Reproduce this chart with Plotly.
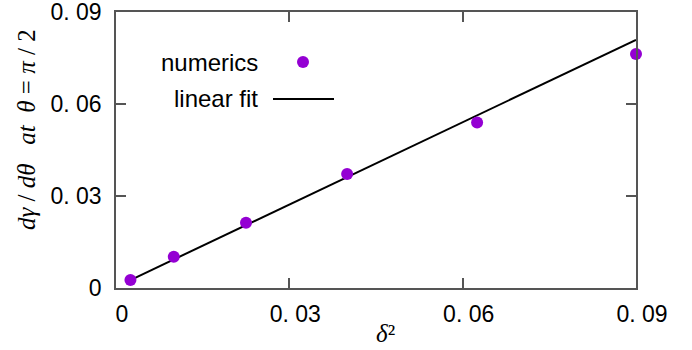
import plotly.graph_objects as go

# Data
delta2 = [0.0025, 0.01, 0.0225, 0.04, 0.0625, 0.09]
numerics = [0.0026, 0.0102, 0.0213, 0.0372, 0.054, 0.0763]
fit_slope = 0.895
fit_intercept = 0.00036
tick_vals = [0, 0.03, 0.06, 0.09]
tick_text = ["0", "0. 03", "0. 06", "0. 09"]

fit_x = [min(delta2), max(delta2)]
fit_y = [fit_slope * x + fit_intercept for x in fit_x]

PURPLE = "#9400D3"
AXIS = "#555555"
SANS = "Liberation Sans, Arial, sans-serif"
SERIF = "Liberation Serif, Times New Roman, serif"

fig = go.Figure()
fig.add_trace(go.Scatter(x=fit_x, y=fit_y, mode="lines",
                         line=dict(color="black", width=2), name="linear fit",
                         showlegend=False))
fig.add_trace(go.Scatter(x=delta2, y=numerics, mode="markers",
                         marker=dict(color=PURPLE, size=12), name="numerics",
                         showlegend=False, cliponaxis=False))

L, R, T, B = 116, 56, 12, 62
W, H = 692, 350
pw, ph = W - L - R, H - T - B

def px(x):
    return (x - L) / pw

def py(y):
    return (H - B - y) / ph

axis_common = dict(
    showline=True, linecolor=AXIS, linewidth=1.5, mirror="ticks",
    ticks="inside", ticklen=10, tickwidth=1.5, tickcolor=AXIS,
    showgrid=False, zeroline=False, automargin=False,
    ticklabeloverflow="allow",
    tickfont=dict(family=SANS, size=23, color="black"),
    tickvals=tick_vals, ticktext=tick_text,
)

fig.update_layout(
    width=W, height=H,
    margin=dict(l=L, r=R, t=T, b=B, autoexpand=False),
    paper_bgcolor="white", plot_bgcolor="white",
    showlegend=False,
    xaxis=dict(range=[0, 0.09], ticklabelshift=6, ticklabelstandoff=5, **axis_common),
    yaxis=dict(range=[0, 0.09], ticklabelstandoff=8, **axis_common),
)

# axis titles (math-style italics)
fig.add_annotation(
    text="<i>dγ</i> / <i>dθ</i>   <i>at</i>  <i>θ</i> = <i>π</i> / 2",
    xref="paper", yref="paper", x=px(26), y=py(130), textangle=-90,
    showarrow=False, font=dict(family=SERIF, size=25, color="black"),
    xanchor="center", yanchor="middle")
fig.add_annotation(
    text="<i>δ</i>²",
    xref="paper", yref="paper", x=px(385), y=py(333),
    showarrow=False, font=dict(family=SERIF, size=25, color="black"),
    xanchor="center", yanchor="middle")

# legend (gnuplot style: text right-aligned, key to the right)
fig.add_annotation(text="numerics", xref="paper", yref="paper",
                   x=px(260), y=py(62), xanchor="right", yanchor="middle",
                   showarrow=False, font=dict(family=SANS, size=24, color="black"))
fig.add_annotation(text="linear fit", xref="paper", yref="paper",
                   x=px(260), y=py(99), xanchor="right", yanchor="middle",
                   showarrow=False, font=dict(family=SANS, size=24, color="black"))
fig.add_shape(type="circle", xref="paper", yref="paper",
              xsizemode="pixel", ysizemode="pixel",
              xanchor=px(303), yanchor=py(62), x0=-6, x1=6, y0=-6, y1=6,
              fillcolor=PURPLE, line=dict(width=0))
fig.add_shape(type="line", xref="paper", yref="paper",
              x0=px(273), x1=px(334), y0=py(99), y1=py(99),
              line=dict(color="black", width=2))

fig.write_html("out.html")
